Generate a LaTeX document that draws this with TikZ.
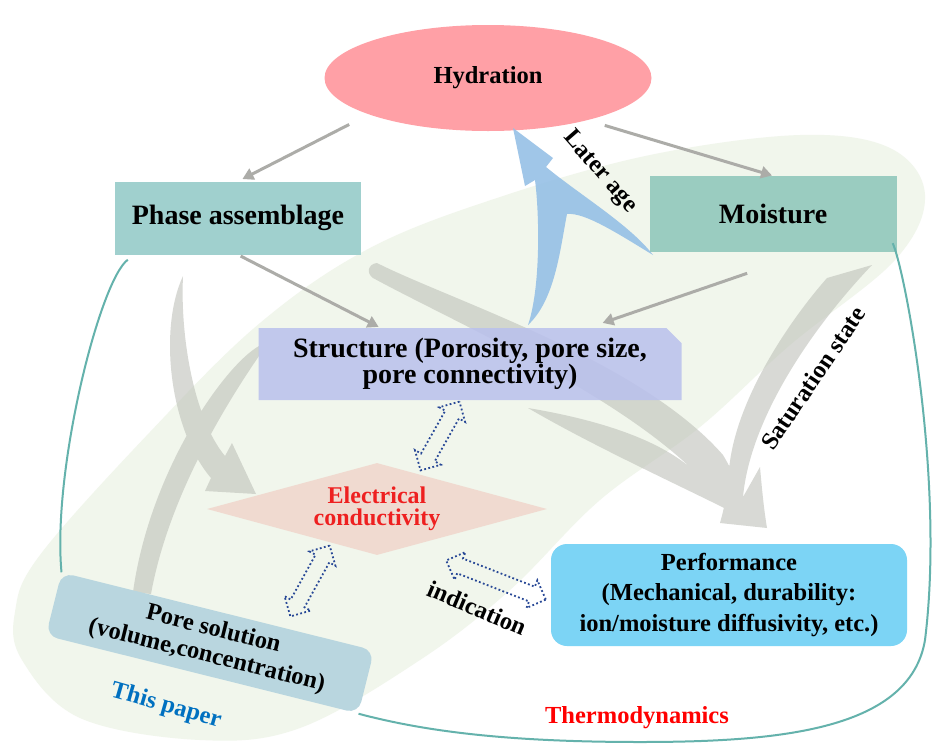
\documentclass[tikz,border=0pt]{standalone}
\usepackage{fontspec}
\setmainfont{Liberation Serif}
\usetikzlibrary{arrows.meta,calc,positioning,shapes.geometric,shapes.misc,shapes.arrows}
\definecolor{hydpink}{RGB}{255,160,166}
\definecolor{phasegreen}{RGB}{160,208,206}
\definecolor{moistgreen}{RGB}{154,204,192}
\definecolor{structblue}{RGB}{185,192,237}
\definecolor{condpink}{RGB}{240,218,208}
\definecolor{perfblue}{RGB}{124,212,245}
\definecolor{poreblue}{RGB}{185,214,223}
\definecolor{paleleaf}{RGB}{241,246,236}
\definecolor{swoosh}{RGB}{190,193,185}
\definecolor{agearrow}{RGB}{150,192,230}
\definecolor{tealline}{RGB}{100,178,172}
\definecolor{connect}{RGB}{172,172,168}
\definecolor{dotblue}{RGB}{40,72,150}
\definecolor{condred}{RGB}{238,32,32}
\definecolor{paperblue}{RGB}{0,112,192}
\newcommand{\bigfont}{\fontsize{28}{24}\selectfont\bfseries}
\newcommand{\midfont}{\fontsize{24.5}{30.5}\selectfont\bfseries}

\begin{document}
\begin{tikzpicture}[x=1pt,y=-1pt,>={Triangle[length=11pt,width=12pt]},
  box/.style={inner sep=0pt,align=center,font=\bigfont},
  conn/.style={->,line width=3pt,connect},
  link/.style={line width=2pt,tealline},
  dblarrow/.style={double arrow,draw=dotblue,line width=1.8pt,dash pattern=on 1.8pt off 2.4pt,
    double arrow head extend=7pt,inner xsep=0pt,inner ysep=7pt},
  lbl/.style={font=\midfont}]
  \fill[white] (0,0) rectangle (938,745);
  \useasboundingbox (0,0) rectangle (938,745);
  % the region studied here
  \fill[paleleaf] plot[smooth cycle,tension=0.6] coordinates {(925,195) (895,260) (790,345) (700,427)
    (600,500) (510,590) (420,660) (300,728) (200,740) (80,718) (22,660) (15,612) (40,555) (150,432)
    (260,323) (370,248) (500,197) (650,155) (800,135) (890,148)};
  % broad grey flows
  \fill[swoosh,fill opacity=0.6]
    (183,276) .. controls (158,330) and (170,430) .. (211,478) -- (205,491) -- (256,494) -- (232,443)
      -- (225,456) .. controls (195,420) and (180,340) .. (183,276) -- cycle
    (259,346) .. controls (225,365) and (150,470) .. (133,592) -- (151,594)
      .. controls (168,500) and (222,410) .. (259,356) -- cycle;
  \fill[swoosh,fill opacity=0.6]
    (377,263) .. controls (450,300) and (640,360) .. (723,455) .. controls (735,475) and (745,500) .. (752,522)
      .. controls (690,490) and (600,450) .. (528,408) .. controls (600,420) and (660,440) .. (693,470)
      .. controls (610,390) and (450,320) .. (373,278) .. controls (366,273) and (368,264) .. (377,263) -- cycle
    (827,278) -- (872,265) .. controls (810,330) and (750,420) .. (743,497) -- (760,467)
      .. controls (762,490) and (764,510) .. (767,528) -- (720,523) .. controls (725,505) and (728,490) .. (729,470)
      .. controls (735,400) and (790,320) .. (827,278) -- cycle;

  \node[ellipse,fill=hydpink,minimum width=327pt,minimum height=106pt,inner sep=0pt,font=\midfont] (hyd)
    at (488,78) {Hydration};
  \node[box,fill=phasegreen,minimum width=246pt,minimum height=73pt] (phase) at (238,218) {Phase assemblage};
  \node[box,fill=moistgreen,minimum width=247pt,minimum height=76pt] (moist) at (773,214) {Moisture};
  \node[box,chamfered rectangle,chamfered rectangle corners=north east,chamfered rectangle xsep=12pt,
    fill=structblue,fill opacity=0.85,text opacity=1,minimum width=423pt,minimum height=72pt] (struct)
    at (470,364) {Structure (Porosity, pore size,\\pore connectivity)};
  \node[diamond,fill=condpink,minimum width=340pt,minimum height=92pt,aspect=3.7,inner sep=0pt,
    align=center,text=condred,font=\fontsize{24}{22}\selectfont\bfseries] (cond) at (377,509)
    {Electrical\\conductivity};
  \node[fill=perfblue,rounded corners=16pt,minimum width=356pt,minimum height=102pt,inner sep=0pt,
    align=center,font=\midfont] (perf) at (729,595)
    {Performance\\(Mechanical, durability:\\ion/moisture diffusivity, etc.)};
  \node[fill=poreblue,rounded corners=12pt,rotate=-14,minimum width=322pt,minimum height=65pt,inner sep=0pt,
    align=center,font=\fontsize{24.5}{27}\selectfont\bfseries] (pore) at (210,643)
    {Pore solution\\(volume,concentration)};

  % later-age arrow back to hydration
  \fill[agearrow,fill opacity=0.9] (513,128) -- (553,158) -- (546,167) .. controls (580,195) and (630,225) .. (653,255)
    .. controls (620,235) and (585,212) .. (567,214) .. controls (560,250) and (555,300) .. (528,325)
    .. controls (540,290) and (540,220) .. (535,180) -- (525,186) -- cycle;

  \draw[link] ([shift={(13,5)}]phase.south west) .. controls (100,280) and (52,470) .. (pore.north west);
  \draw[link] ([shift={(-4,-9)}]moist.south east) .. controls (905,270) and (945,480) .. (925,640)
    .. controls (910,730) and (780,742) .. (640,742) .. controls (500,742) and (420,730) .. (pore.south east);

  \draw[conn,shorten <=22pt,shorten >=5pt] (hyd.197) -- (phase.north);
  \draw[conn,shorten <=18pt,shorten >=1pt] (hyd.337) -- (moist.north);
  \draw[conn,shorten <=3pt,shorten >=2pt] (phase.south) -- (struct.158.6);
  \draw[conn,shorten <=65pt,shorten >=15pt] (moist.313.8) -- (struct.17.5);

  \node[dblarrow,minimum height=79pt,rotate=60.5] (da1) at (440,436) {};
  \node[dblarrow,minimum height=81pt,rotate=61] (da2) at (310,581) {};
  \node[dblarrow,minimum height=107pt,rotate=-21.4] (da3) at (496,580) {};

  \node[lbl,rotate=-49] (later) at (600,172) {Later age};
  \node[lbl,rotate=56] (satur) at (813,378) {Saturation state};
  \node[lbl,rotate=-23] (indic) at (477,608) {indication};
  \node[lbl,rotate=-16,text=paperblue] (paper) at (166,706) {This paper};
  \node[lbl,text=red] (thermo) at (637,718) {Thermodynamics};
\end{tikzpicture}
\end{document}
